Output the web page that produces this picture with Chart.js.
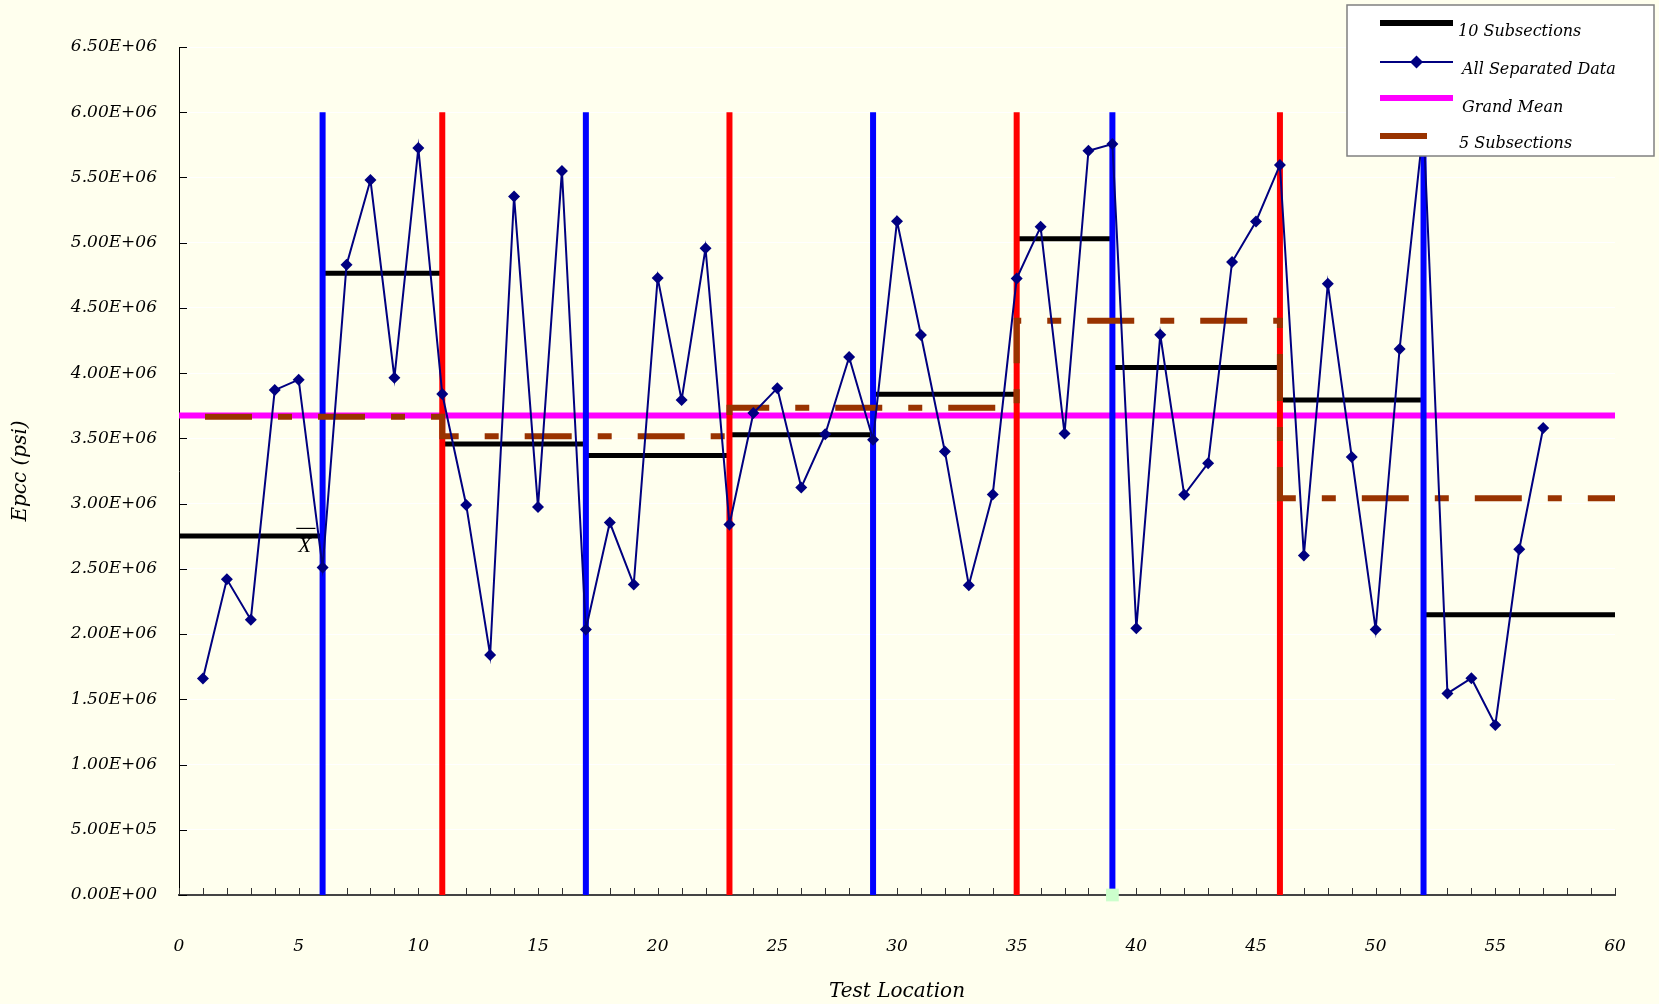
<!DOCTYPE html>
<html>
<head>
<meta charset="utf-8">
<script src="https://cdn.jsdelivr.net/npm/chart.js@4.4.1/dist/chart.umd.min.js"></script>
<style>
html,body{margin:0;padding:0;background:#FFFFEE;}
#wrap{width:1659px;height:1004px;position:relative;}
</style>
</head>
<body>
<div id="wrap"><canvas id="chart"></canvas></div>
<script>
/* ---- values ---- */
const locations=[1,2,3,4,5,6,7,8,9,10,11,12,13,14,15,16,17,18,19,20,21,22,23,24,25,26,27,28,29,30,
  31,32,33,34,35,36,37,38,39,40,41,42,43,44,45,46,47,48,49,50,51,52,53,54,55,56,57];
const separatedData=[1.66e6,2.42e6,2.11e6,3.87e6,3.95e6,2.51e6,4.83e6,5.48e6,3.965e6,5.725e6,
  3.84e6,2.99e6,1.84e6,5.355e6,2.975e6,5.55e6,2.035e6,2.855e6,2.38e6,4.73e6,
  3.795e6,4.957e6,2.84e6,3.695e6,3.885e6,3.124e6,3.532e6,4.123e6,3.49e6,5.165e6,
  4.292e6,3.40e6,2.375e6,3.07e6,4.725e6,5.122e6,3.537e6,5.705e6,5.757e6,2.044e6,
  4.294e6,3.068e6,3.31e6,4.852e6,5.163e6,5.596e6,2.603e6,4.685e6,3.358e6,2.035e6,
  4.185e6,5.90e6,1.545e6,1.662e6,1.303e6,2.65e6,3.58e6];

const tenStarts=[0,6,11,17,23,29,35,39,46,52];
const tenEnds=[6,11,17,23,29,35,39,46,52,60];
const tenMeans=[2.752e6,4.765e6,3.457e6,3.368e6,3.527e6,3.838e6,5.030e6,4.044e6,3.794e6,2.148e6];

const fiveStarts=[0,11,23,35,46];
const fiveEnds=[11,23,35,46,60];
const fiveMeans=[3.665e6,3.517e6,3.735e6,4.402e6,3.042e6];

const grandMean=3.676e6;
const meanSpan=[0,60];

const blueBounds=[6,17,29,39,52];
const redBounds=[11,23,35,46];
const boundTop=6.0e6;

const greenMarkX=[39];

const xTickLabels=['0','5','10','15','20','25','30','35','40','45','50','55','60'];
const yTickLabels=['0.00E+00','5.00E+05','1.00E+06','1.50E+06','2.00E+06','2.50E+06','3.00E+06',
  '3.50E+06','4.00E+06','4.50E+06','5.00E+06','5.50E+06','6.00E+06','6.50E+06'];
const legendLabels=['10 Subsections','All Separated Data','Grand Mean','5 Subsections'];

/* ---- build point lists ---- */
const tenPts=[];
tenStarts.forEach((s,i)=>{
  tenPts.push({x:s,y:tenMeans[i]},{x:tenEnds[i],y:tenMeans[i]},{x:tenEnds[i],y:null});
});
const fivePts=[];
fiveStarts.forEach((s,i)=>{
  fivePts.push({x:s,y:fiveMeans[i]},{x:fiveEnds[i],y:fiveMeans[i]});
});
const meanPts=meanSpan.map(x=>({x,y:grandMean}));
function boundPts(arr){
  const out=[];
  arr.forEach(b=>out.push({x:b,y:0},{x:b,y:boundTop},{x:b,y:null}));
  return out;
}
const dataPts=locations.map((x,i)=>({x,y:separatedData[i]}));

Chart.defaults.font.family='DejaVu Serif';
Chart.defaults.font.style='italic';
Chart.defaults.color='#000';

/* inner tick marks */
const innerTicks={
  id:'innerTicks',
  beforeDatasetsDraw(chart){
    const c=chart.ctx,xs=chart.scales.x,ys=chart.scales.y,a=chart.chartArea;
    c.save();
    c.strokeStyle='#000';c.lineWidth=1;
    ys.ticks.forEach(t=>{
      const py=Math.round(ys.getPixelForValue(t.value))+0.5;
      c.beginPath();c.moveTo(a.left,py);c.lineTo(a.left+8,py);c.stroke();
    });
    c.strokeStyle='#333';
    xs.ticks.forEach(t=>{
      const px=Math.round(xs.getPixelForValue(t.value))+0.5;
      c.beginPath();c.moveTo(px,a.bottom);c.lineTo(px,a.bottom-7);c.stroke();
    });
    c.restore();
  }
};

/* X-bar note next to first subsection */
const xbarNote={
  id:'xbarNote',
  afterDatasetsDraw(chart){
    const c=chart.ctx,xs=chart.scales.x,ys=chart.scales.y;
    const px=xs.getPixelForValue(5.25),py=ys.getPixelForValue(2.67e6);
    c.save();
    c.font='italic 21px "Liberation Serif"';
    c.fillStyle='#000';c.textAlign='center';c.textBaseline='middle';
    c.fillText('X',px,py);
    const by=ys.getPixelForValue(2.81e6);
    c.strokeStyle='#000';c.lineWidth=1.2;
    c.beginPath();c.moveTo(xs.getPixelForValue(4.9),by);c.lineTo(xs.getPixelForValue(5.7),by);c.stroke();
    c.restore();
  }
};

/* legend box, top right */
const legendBox={
  id:'legendBox',
  afterDraw(chart){
    const c=chart.ctx;
    c.save();
    c.fillStyle='#FFFFFF';c.fillRect(1347,5,307,151);
    c.strokeStyle='#808080';c.lineWidth=1.5;c.strokeRect(1347,5,307,151);
    c.lineCap='butt';
    // 10 subsections
    c.strokeStyle='#000';c.lineWidth=6;
    c.beginPath();c.moveTo(1380,23);c.lineTo(1453,23);c.stroke();
    // all data
    c.strokeStyle='#000080';c.lineWidth=2;
    c.beginPath();c.moveTo(1380,62);c.lineTo(1453,62);c.stroke();
    c.fillStyle='#000080';
    c.beginPath();c.moveTo(1416.5,55.5);c.lineTo(1423,62);c.lineTo(1416.5,68.5);c.lineTo(1410,62);c.closePath();c.fill();
    // grand mean
    c.strokeStyle='#FF00FF';c.lineWidth=6;
    c.beginPath();c.moveTo(1380,98);c.lineTo(1453,98);c.stroke();
    // 5 subsections
    c.strokeStyle='#993300';c.lineWidth=6;
    c.beginPath();c.moveTo(1380,136);c.lineTo(1427,136);c.stroke();
    c.fillStyle='#000';c.font='italic 16px "DejaVu Serif"';c.textBaseline='middle';c.textAlign='left';
    c.fillText(legendLabels[0],1458,32);
    c.fillText(legendLabels[1],1462,70);
    c.fillText(legendLabels[2],1462,108);
    c.fillText(legendLabels[3],1459,144);
    c.restore();
  }
};

new Chart(document.getElementById('chart'),{
  type:'line',
  data:{
    datasets:[
      {label:legendLabels[1],data:dataPts,borderColor:'#000080',backgroundColor:'#000080',borderWidth:2,
        pointStyle:'rectRot',pointRadius:6,pointBorderWidth:0,pointHoverRadius:6,order:0},
      {label:'marker',data:greenMarkX.map(x=>({x,y:0})),showLine:false,pointStyle:'rect',pointRadius:9,
        pointBackgroundColor:'#CCFFCC',pointBorderWidth:0,clip:false,order:0},
      {label:legendLabels[3],data:fivePts,borderColor:'#993300',borderWidth:6,pointRadius:0,
        borderDash:[47,26,14,26],borderDashOffset:87,borderCapStyle:'butt',order:1},
      {label:'blue',data:boundPts(blueBounds),borderColor:'#0000FF',borderWidth:6,pointRadius:0,spanGaps:false,order:2},
      {label:'red',data:boundPts(redBounds),borderColor:'#FF0000',borderWidth:6,pointRadius:0,spanGaps:false,order:2},
      {label:legendLabels[2],data:meanPts,borderColor:'#FF00FF',borderWidth:6,pointRadius:0,order:3},
      {label:legendLabels[0],data:tenPts,borderColor:'#000000',borderWidth:5,pointRadius:0,spanGaps:false,order:4}
    ]
  },
  plugins:[innerTicks,xbarNote,legendBox],
  options:{
    responsive:true,maintainAspectRatio:false,animation:false,
    layout:{padding:{left:0,right:44,top:47,bottom:0}},
    plugins:{legend:{display:false},tooltip:{enabled:false}},
    scales:{
      x:{type:'linear',min:0,max:60,
        afterFit(s){s.height=109},
        grid:{display:false,drawTicks:true,tickLength:40},
        border:{display:true,color:'#444',width:2},
        ticks:{stepSize:1,autoSkip:false,maxRotation:0,padding:1,font:{size:17},
          callback:v=>Math.round(v)%5===0?xTickLabels[Math.round(v)/5]:''},
        title:{display:true,text:'Test Location',font:{size:20},padding:{top:0,bottom:0}}
      },
      y:{min:0,max:6.5e6,
        afterFit(s){s.width=179},
        grid:{color:'#FFFFFF',lineWidth:1,drawTicks:false},
        border:{display:true,color:'#000',width:1},
        ticks:{stepSize:5e5,padding:22,font:{size:17},callback:(v,i)=>yTickLabels[i]},
        title:{display:true,text:'Epcc (psi)',font:{size:20},padding:{top:9,bottom:0}}
      }
    }
  }
});
</script>
</body>
</html>
